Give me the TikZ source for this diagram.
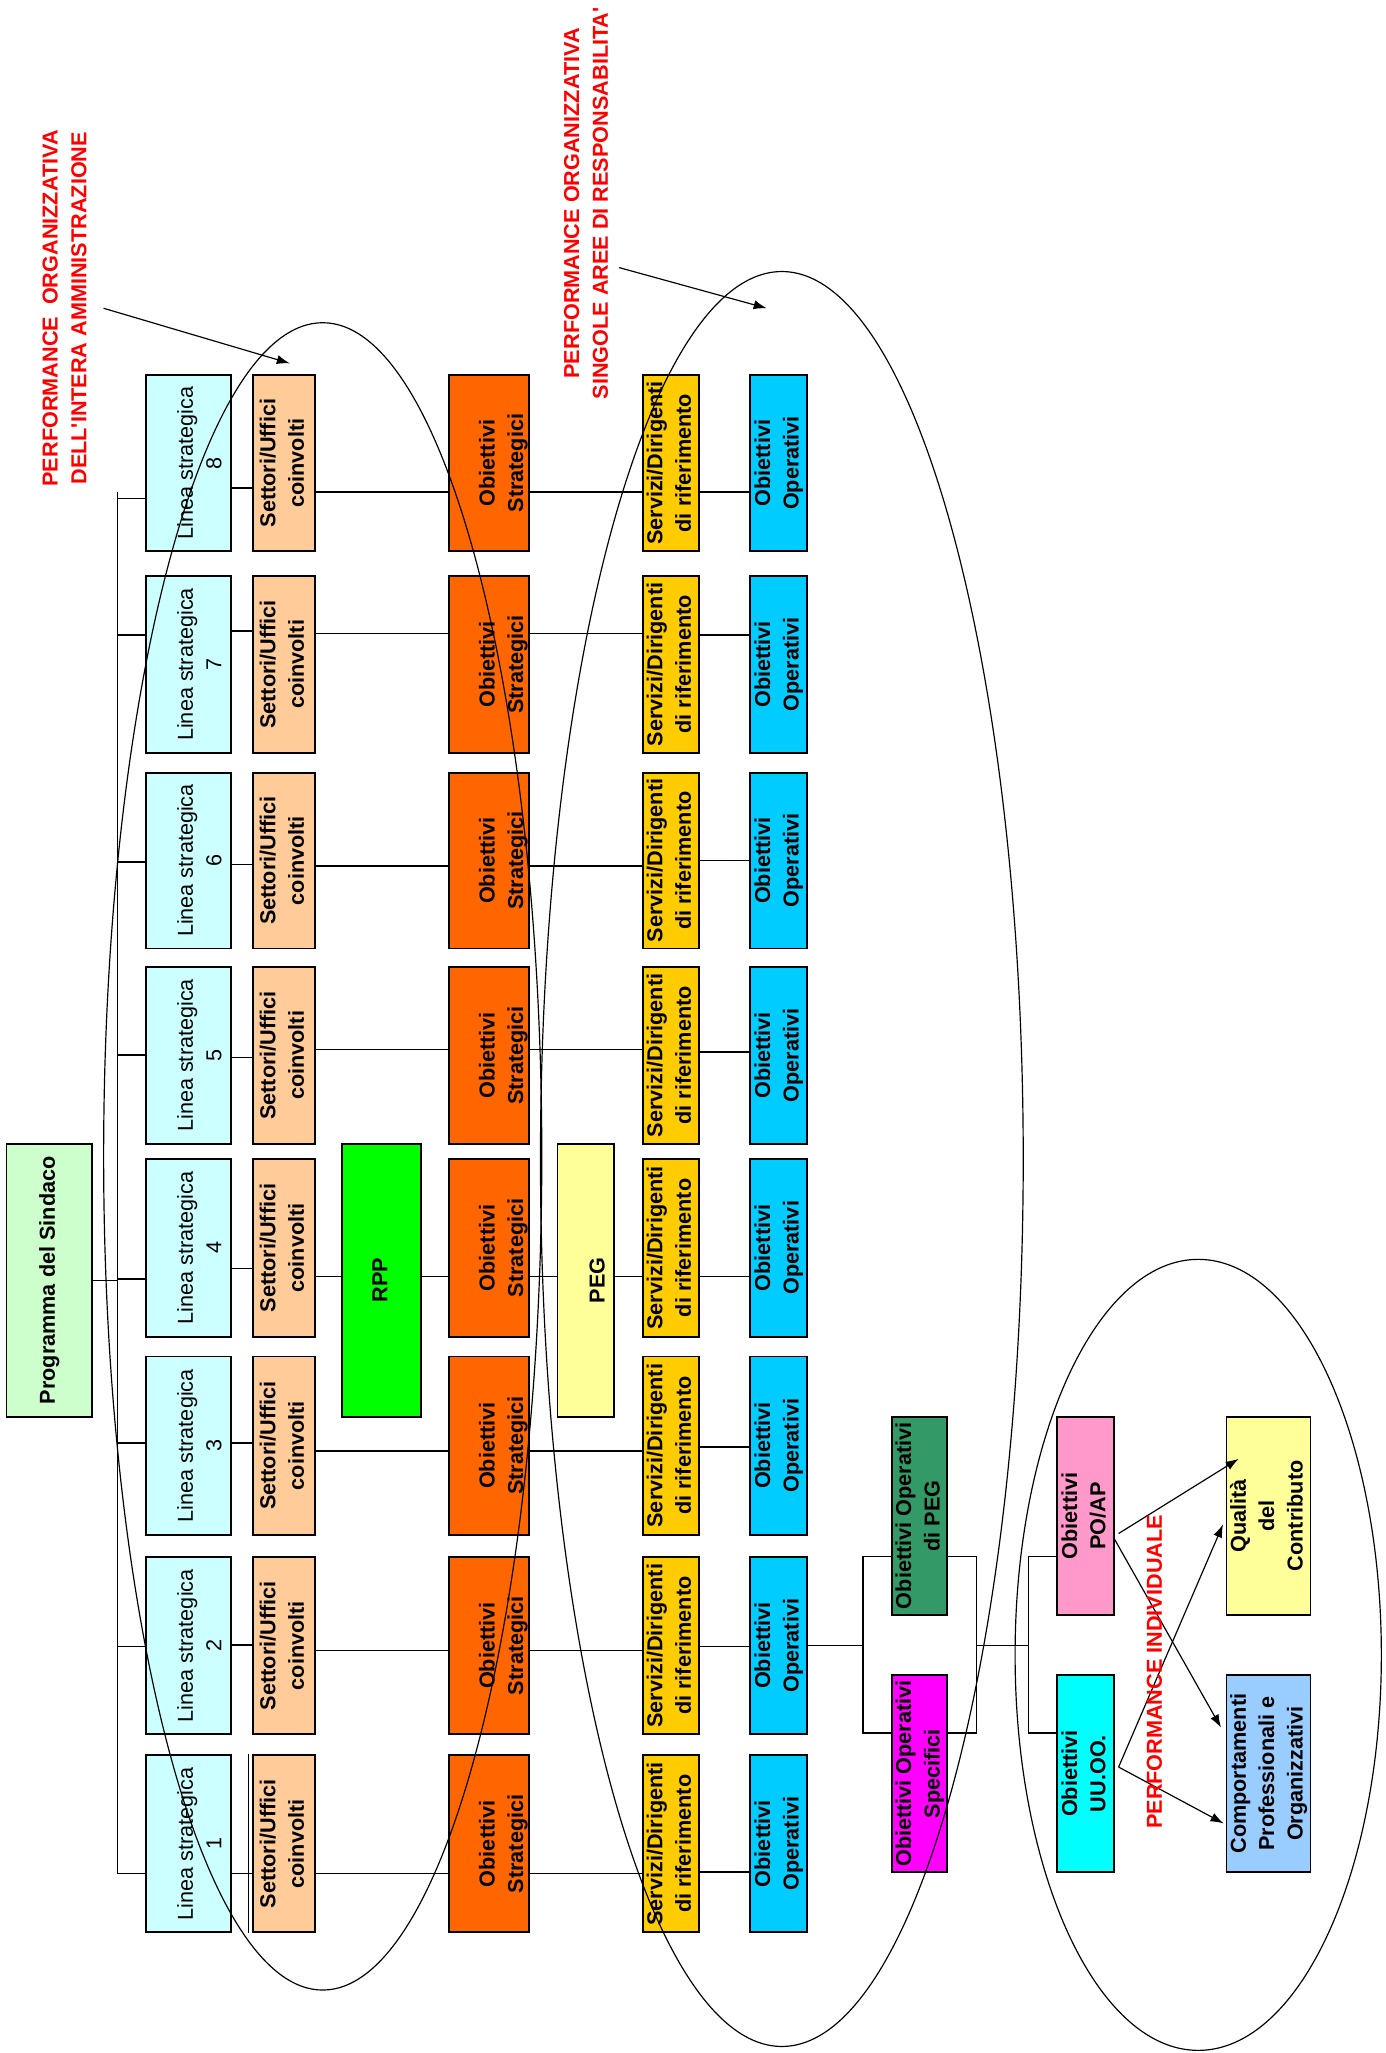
\documentclass[tikz,border=0pt]{standalone}
\usepackage{fontspec}
\setmainfont{Liberation Sans}
\usepackage{graphicx}
\usetikzlibrary{arrows.meta,calc}

\definecolor{cProg}{HTML}{CCFFCC}
\definecolor{cLinea}{HTML}{CCFFFF}
\definecolor{cSett}{HTML}{FFCC99}
\definecolor{cRpp}{HTML}{00FF00}
\definecolor{cStrat}{HTML}{FF6600}
\definecolor{cPeg}{HTML}{FFFF99}
\definecolor{cServ}{HTML}{FFCC00}
\definecolor{cOper}{HTML}{00CCFF}
\definecolor{cOpPeg}{HTML}{339966}
\definecolor{cSpec}{HTML}{FF00FF}
\definecolor{cPoap}{HTML}{FF99CC}
\definecolor{cUuoo}{HTML}{00FFFF}
\definecolor{cQual}{HTML}{FFFF99}
\definecolor{cComp}{HTML}{99CCFF}

% rotated text, optional shift to the right
\newcommand{\rtxt}[2][0pt]{\makebox[0pt]{\hspace*{#1}\rotatebox{90}{\begin{tabular}{@{}c@{}}#2\end{tabular}}}}

\tikzset{
  box/.style={draw, line width=1.4pt, inner sep=0pt, font=\fontsize{16.5}{21.7}\selectfont\bfseries},
  conn/.style={line width=1.2pt},
  perf/.style={line width=0.9pt},
  redlbl/.style={inner sep=0pt, text=red, font=\fontsize{16.5}{22}\selectfont\bfseries},
}

\begin{document}
\begin{tikzpicture}[x=1pt, y=-1pt, >={Latex[length=10pt,width=7pt]}]
  \useasboundingbox (0,0) rectangle (1056,1565);

  % big blocks in the middle
  \node[box, fill=cProg, minimum width=65pt, minimum height=208pt] (prog) at (37.5,976) {\rtxt{Programma del Sindaco}};
  \node[box, fill=cRpp, minimum width=60pt, minimum height=208pt] (rpp) at (291,976) {\rtxt{RPP}};
  \node[box, fill=cPeg, minimum width=43pt, minimum height=208pt] (peg) at (446.5,976) {\rtxt[20pt]{PEG}};

  % bus
  \coordinate (bus) at (89.5,375);
  \coordinate (busend) at (89.5,1428);
  \draw[conn] (bus) -- (busend);
  \draw[conn] (prog.east) -- (prog.east -| bus);

  % one row per linea strategica
  \foreach \i/\ytop/\ybot/\busy/\liny/\midy/\opy in {
    8/286/420/380/372/375/375,
    7/439/574/484/481/483/484,
    6/589/723/657/659/660/656,
    5/737/872/804/806/800/802,
    4/883.5/1019/975/967/973/973,
    3/1034/1170/1100/1100/1106/1103,
    2/1187/1322/1255/1254/1258/1255,
    1/1338/1473/1428/1428/1428/1427}
  {
    \pgfmathsetmacro\cy{(\ytop+\ybot)/2}
    \pgfmathsetlengthmacro\bh{\ybot-\ytop}
    \node[box, fill=cLinea, font=\fontsize{16.5}{21.7}\selectfont, minimum width=65pt, minimum height=\bh] (lin\i) at (143.5,\cy) {\rtxt[20pt]{Linea strategica\\\i}};
    \node[box, fill=cSett, minimum width=47pt, minimum height=\bh] (set\i) at (216.5,\cy) {\rtxt{Settori/Uffici\\coinvolti}};
    \node[box, fill=cStrat, minimum width=61pt, minimum height=\bh] (obs\i) at (372.5,\cy) {\rtxt[22pt]{Obiettivi\\Strategici}};
    \node[box, fill=cServ, minimum width=43pt, minimum height=\bh] (ser\i) at (511.5,\cy) {\rtxt{Servizi/Dirigenti\\di riferimento}};
    \node[box, fill=cOper, minimum width=43pt, minimum height=\bh] (op\i) at (593.5,\cy) {\rtxt{Obiettivi\\Operativi}};
    \coordinate (ya) at (0,\busy);
    \coordinate (yb) at (0,\liny);
    \coordinate (yc) at (0,\midy);
    \coordinate (yd) at (0,\opy);
    \draw[conn] (bus |- ya) -- (lin\i.west |- ya);
    \draw[conn] (lin\i.east |- yb) -- (set\i.west |- yb);
    \ifnum\i=4
      \draw[conn] (set\i.east |- yc) -- (rpp.west |- yc) (rpp.east |- yc) -- (obs\i.west |- yc)
        (obs\i.east |- yc) -- (peg.west |- yc) (peg.east |- yc) -- (ser\i.west |- yc);
    \else
      \draw[conn] (set\i.east |- yc) -- (obs\i.west |- yc) (obs\i.east |- yc) -- (ser\i.west |- yc);
    \fi
    \draw[conn] (ser\i.east |- yd) -- (op\i.west |- yd);
  }
  \draw[conn] ([xshift=-2.8pt]set1.north west) -- ([xshift=-2.8pt]set1.south west);

  % obiettivi operativi and individual part
  \node[box, fill=cOpPeg, minimum width=42pt, minimum height=151pt] (oppeg) at (701,1155.5) {\rtxt{Obiettivi Operativi\\di PEG}};
  \node[box, fill=cSpec, minimum width=42pt, minimum height=150pt] (opspec) at (701,1352) {\rtxt{Obiettivi Operativi\\Specifici}};
  \node[box, fill=cPoap, minimum width=43pt, minimum height=151pt] (poap) at (827.5,1155.5) {\rtxt{Obiettivi\\PO/AP}};
  \node[box, fill=cUuoo, minimum width=43pt, minimum height=150pt] (uuoo) at (827.5,1352) {\rtxt{Obiettivi\\UU.OO.}};
  \node[box, fill=cQual, minimum width=64pt, minimum height=151pt] (qual) at (967,1155.5) {\rtxt{Qualità\\del\\Contributo}};
  \node[box, fill=cComp, minimum width=64pt, minimum height=150pt] (comp) at (967,1352) {\rtxt{Comportamenti\\Professionali e\\Organizzativi}};

  % brackets
  \coordinate (brl) at (658,1186.5);
  \coordinate (brr) at (744.5,1186.5);
  \coordinate (bri) at (784,1186.5);
  \coordinate (brb) at (0,1321);
  \draw[conn] (op2.east) -- (op2.east -| brl);
  \draw[conn] (oppeg.west |- brl) -- (brl) -- (brl |- brb) -- (opspec.west |- brb);
  \draw[conn] (oppeg.east |- brr) -- (brr) -- (brr |- brb) -- (opspec.east |- brb);
  \draw[conn] (op2.east -| brr) -- (op2.east -| bri);
  \draw[conn] (poap.west |- bri) -- (bri) -- (bri |- brb) -- (uuoo.west |- brb);

  \draw[->, perf] ($(poap.east)+(3,13.5)$) -- ($(qual.west)+(10,-43.5)$);
  \draw[->, perf] ($(poap.east)+(0,18)$) -- ($(comp.west)+(-3.5,-35)$);
  \draw[->, perf] ($(uuoo.east)+(3,-5)$) -- ($(qual.west)+(-2,6.5)$);
  \draw[->, perf] ($(uuoo.east)+(3,-5)$) -- ($(comp.west)+(-1.5,38)$);

  % red labels
  \node[redlbl] (perfA) at (50.5,235) {\rtxt{PERFORMANCE\ \ ORGANIZZATIVA\\DELL\textquotesingle INTERA AMMINISTRAZIONE}};
  \node[redlbl] (perfB) at (448,155) {\rtxt{PERFORMANCE ORGANIZZATIVA\\SINGOLE AREE DI RESPONSABILITA\textquotesingle}};
  \node[redlbl] (perfC) at (880,1274.5) {\rotatebox{90}{PERFORMANCE INDIVIDUALE}};

  \coordinate (a1s) at (79,235);
  \coordinate (a1e) at (221,277);
  \coordinate (a2s) at (472,204);
  \coordinate (a2e) at (584.5,235);
  \draw[->, perf] (a1s) -- (a1e);
  \draw[->, perf] (a2s) -- (a2e);

  % performance ellipses
  \draw[perf] (246,881.5) ellipse [x radius=167, y radius=635.5];
  \draw[perf] (596,883.5) ellipse [x radius=184, y radius=676.5];
  \draw[perf] (913.4,1261.5) ellipse [x radius=139.6, y radius=301.5];
\end{tikzpicture}
\end{document}
